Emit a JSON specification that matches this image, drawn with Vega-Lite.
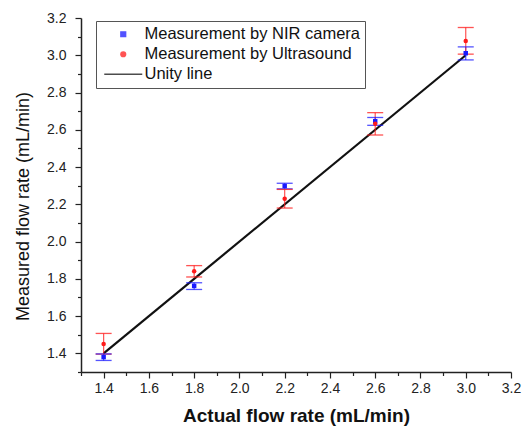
{
  "$schema": "https://vega.github.io/schema/vega-lite/v6.json",
  "width": 430,
  "height": 354,
  "autosize": {"type": "none"},
  "padding": {"left": 81, "top": 18, "right": 16, "bottom": 56},
  "background": "white",
  "config": {
    "view": {"stroke": null},
    "font": "Liberation Sans",
    "axis": {
      "grid": false,
      "domainColor": "#222",
      "domainWidth": 1.5,
      "tickColor": "#222",
      "tickWidth": 1.2,
      "labelColor": "#222",
      "labelFontSize": 14,
      "labelFont": "Liberation Sans",
      "titleFont": "Liberation Sans",
      "titleColor": "#111"
    },
    "legend": {
      "labelLimit": 400
    }
  },
  "datasets": {
    "pts": [
      {"actual": 1.4, "series": "Measurement by NIR camera", "value": 1.38, "lo": 1.362, "hi": 1.397},
      {"actual": 1.8, "series": "Measurement by NIR camera", "value": 1.762, "lo": 1.743, "hi": 1.779},
      {"actual": 2.2, "series": "Measurement by NIR camera", "value": 2.298, "lo": 2.283, "hi": 2.313},
      {"actual": 2.6, "series": "Measurement by NIR camera", "value": 2.646, "lo": 2.624, "hi": 2.666},
      {"actual": 3.0, "series": "Measurement by NIR camera", "value": 3.011, "lo": 2.975, "hi": 3.045},
      {"actual": 1.4, "series": "Measurement by Ultrasound", "value": 1.45, "lo": 1.396, "hi": 1.507},
      {"actual": 1.8, "series": "Measurement by Ultrasound", "value": 1.841, "lo": 1.81, "hi": 1.871},
      {"actual": 2.2, "series": "Measurement by Ultrasound", "value": 2.23, "lo": 2.18, "hi": 2.28},
      {"actual": 2.6, "series": "Measurement by Ultrasound", "value": 2.633, "lo": 2.572, "hi": 2.692},
      {"actual": 3.0, "series": "Measurement by Ultrasound", "value": 3.077, "lo": 3.006, "hi": 3.149}
    ],
    "unity": [
      {"actual": 1.4, "value": 1.4, "series": "Unity line"},
      {"actual": 3.0, "value": 3.0, "series": "Unity line"}
    ]
  },
  "encoding": {
    "x": {
      "field": "actual",
      "type": "quantitative",
      "scale": {"domain": [1.3, 3.2], "nice": false, "zero": false},
      "axis": {
        "title": "Actual flow rate (mL/min)",
        "titleFontSize": 19,
        "titleFontWeight": "bold",
        "titlePadding": 11,
        "values": [1.3, 1.4, 1.5, 1.6, 1.7, 1.8, 1.9, 2.0, 2.1, 2.2, 2.3, 2.4, 2.5, 2.6, 2.7, 2.8, 2.9, 3.0, 3.1, 3.2],
        "labelExpr": "round(datum.value*10) % 2 == 0 ? format(datum.value, '.1f') : ''",
        "tickSize": {"condition": {"test": "round(datum.value*10) % 2 == 0", "value": 6}, "value": 3.5},
        "labelPadding": 3,
        "labelFlush": false,
        "labelOverlap": false
      }
    },
    "y": {
      "field": "value",
      "type": "quantitative",
      "scale": {"domain": [1.3, 3.2], "nice": false, "zero": false},
      "axis": {
        "title": "Measured flow rate (mL/min)",
        "titleFontSize": 18,
        "titleFontWeight": "normal",
        "titlePadding": 14,
        "titleY": 188,
        "values": [1.3, 1.4, 1.5, 1.6, 1.7, 1.8, 1.9, 2.0, 2.1, 2.2, 2.3, 2.4, 2.5, 2.6, 2.7, 2.8, 2.9, 3.0, 3.1, 3.2],
        "labelExpr": "round(datum.value*10) % 2 == 0 ? format(datum.value, '.1f') : ''",
        "tickSize": {"condition": {"test": "round(datum.value*10) % 2 == 0", "value": 6}, "value": 3.5},
        "labelPadding": 9,
        "labelFlush": false,
        "labelOverlap": false
      }
    }
  },
  "layer": [
    {
      "data": {"name": "unity"},
      "mark": {"type": "line", "strokeWidth": 2.2},
      "encoding": {
        "color": {"field": "series", "type": "nominal"}
      }
    },
    {
      "data": {"name": "pts"},
      "mark": {"type": "rule", "strokeWidth": 1.2, "opacity": 0.75},
      "encoding": {
        "y": {"field": "lo", "type": "quantitative"},
        "y2": {"field": "hi"},
        "color": {"field": "series", "type": "nominal"}
      }
    },
    {
      "data": {"name": "pts"},
      "mark": {"type": "tick", "orient": "horizontal", "size": 16, "thickness": 1.3, "opacity": 0.75},
      "encoding": {
        "y": {"field": "lo", "type": "quantitative"},
        "color": {"field": "series", "type": "nominal"}
      }
    },
    {
      "data": {"name": "pts"},
      "mark": {"type": "tick", "orient": "horizontal", "size": 16, "thickness": 1.3, "opacity": 0.75},
      "encoding": {
        "y": {"field": "hi", "type": "quantitative"},
        "color": {"field": "series", "type": "nominal"}
      }
    },
    {
      "data": {"name": "pts"},
      "mark": {"type": "point", "filled": true, "opacity": 1, "size": 20},
      "encoding": {
        "color": {
          "field": "series",
          "type": "nominal",
          "scale": {
            "domain": ["Measurement by NIR camera", "Measurement by Ultrasound", "Unity line"],
            "range": ["#1a1aff", "#ff1a1a", "#111111"]
          },
          "legend": {
            "title": null,
            "orient": "none",
            "legendX": 15,
            "legendY": 3,
            "labelFontSize": 16.5,
            "labelColor": "#111",
            "labelFont": "Liberation Sans",
            "labelOffset": 13,
            "labelLimit": 400,
            "rowPadding": 3,
            "padding": 5,
            "symbolSize": 22,
            "symbolOffset": 14,
            "strokeColor": "#555",
            "fillColor": "white",
            "encode": {
              "symbols": {
                "stroke": {"value": {"expr": "datum.value == 'Unity line' ? '#111111' : 'transparent'"}},
                "strokeWidth": {"value": {"expr": "datum.value == 'Unity line' ? 2 : 0"}}
              }
            }
          }
        },
        "shape": {
          "field": "series",
          "type": "nominal",
          "scale": {
            "domain": ["Measurement by NIR camera", "Measurement by Ultrasound", "Unity line"],
            "range": ["square", "circle", "M -8.1 0 L 8.1 0"]
          },
          "legend": {
            "title": null,
            "orient": "none",
            "legendX": 15,
            "legendY": 3,
            "labelFontSize": 16.5,
            "labelColor": "#111",
            "labelFont": "Liberation Sans",
            "labelOffset": 13,
            "labelLimit": 400,
            "rowPadding": 3,
            "padding": 5,
            "symbolSize": 22,
            "symbolOffset": 14,
            "strokeColor": "#555",
            "fillColor": "white",
            "encode": {
              "symbols": {
                "stroke": {"value": {"expr": "datum.value == 'Unity line' ? '#111111' : 'transparent'"}},
                "strokeWidth": {"value": {"expr": "datum.value == 'Unity line' ? 2 : 0"}}
              }
            }
          }
        }
      }
    }
  ]
}
